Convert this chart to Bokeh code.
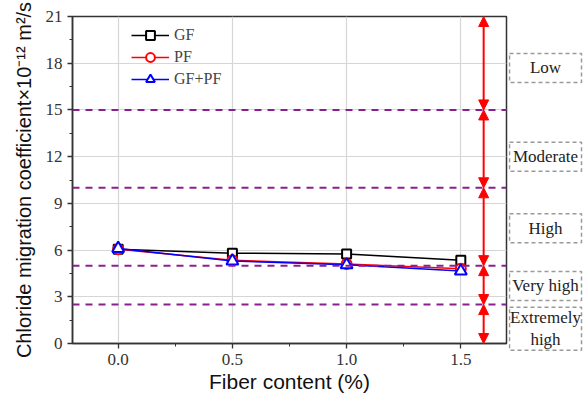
from bokeh.plotting import figure
from bokeh.models import Range1d, FixedTicker, Span, Arrow, NormalHead, Legend, LegendItem
from bokeh.layouts import row, column
from bokeh.core.properties import value
from bokeh.embed import file_html
from bokeh.resources import INLINE

# ---- data ----
fiber = [0.0, 0.5, 1.0, 1.5]
x_tick_labels = {0.0: "0.0", 0.5: "0.5", 1.0: "1.0", 1.5: "1.5"}
gf = [6.05, 5.8, 5.75, 5.35]
pf = [6.05, 5.35, 5.1, 4.8]
gfpf = [6.1, 5.3, 5.05, 4.65]
y_ticks = [0, 3, 6, 9, 12, 15, 18, 21]
boundaries = [0, 2.5, 5, 10, 15, 21]
class_names = ["Extremely\nhigh", "Very high", "High", "Moderate", "Low"]
class_pos = [0.95, 3.7, 7.4, 12.0, 17.7]
arrow_x = 1.6

SERIF = "Liberation Serif"
SANS = "Liberation Sans"

p = figure(width=508, height=397, x_range=Range1d(-0.2, 1.7), y_range=Range1d(0, 21),
           output_backend="svg", toolbar_location=None,
           min_border_left=72, min_border_right=2, min_border_top=16, min_border_bottom=54)

p.xaxis.ticker = FixedTicker(ticks=fiber, minor_ticks=[-0.25, 0.25, 0.75, 1.25, 1.75])
p.xaxis.major_label_overrides = x_tick_labels
p.yaxis.ticker = FixedTicker(ticks=y_ticks, minor_ticks=[v + 1.5 for v in y_ticks[:-1]])
p.xgrid.ticker = FixedTicker(ticks=fiber)
p.ygrid.ticker = FixedTicker(ticks=y_ticks)
p.grid.grid_line_color = "#d6d6d6"
p.grid.grid_line_width = 1.2

for ax in (p.xaxis, p.yaxis):
    ax.axis_line_color = "#333333"
    ax.axis_line_width = 1.5
    ax.major_tick_line_color = "#333333"
    ax.minor_tick_line_color = "#333333"
    ax.major_tick_line_width = 1.3
    ax.major_tick_out = 5
    ax.major_tick_in = 0
    ax.minor_tick_out = 3
    ax.minor_tick_in = 0
    ax.major_label_text_font = SERIF
    ax.major_label_text_font_size = "17px"
    ax.major_label_text_color = "#333333"
    ax.major_label_standoff = 5
    ax.axis_label_text_font = SANS
    ax.axis_label_text_font_style = "normal"
    ax.axis_label_text_color = "#111111"

p.xaxis.axis_label = "Fiber content (%)"
p.xaxis.axis_label_text_font_size = "21px"
p.xaxis.axis_label_standoff = 2
p.yaxis.axis_label = "Chloride migration coefficient×10⁻¹² m²/s"
p.yaxis.axis_label_text_font_size = "20px"
p.yaxis.axis_label_standoff = 8

p.outline_line_color = "#333333"
p.outline_line_width = 1.5

for b in boundaries[1:-1]:
    p.add_layout(Span(location=b, dimension="width", line_color="#8a1f8f",
                      line_width=2, line_dash="7 6"))

for lo, hi in zip(boundaries[:-1], boundaries[1:]):
    p.add_layout(Arrow(x_start=arrow_x, y_start=lo, x_end=arrow_x, y_end=hi,
                       start=NormalHead(size=10, fill_color="red", line_color="red"),
                       end=NormalHead(size=10, fill_color="red", line_color="red"),
                       line_color="red", line_width=2))

series = [("GF", gf, "black", "square", 9),
          ("PF", pf, "red", "circle", 10),
          ("GF+PF", gfpf, "blue", "triangle", 12)]
items = []
for name, ys, col, mk, sz in series:
    l = p.line(fiber, ys, line_color=col, line_width=1.5)
    s = p.scatter(fiber, ys, marker=mk, size=sz, fill_color="white",
                  line_color=col, line_width=2)
    items.append(LegendItem(label=name, renderers=[l, s]))

leg = Legend(items=items, location=(59, 253), border_line_color=None,
             background_fill_alpha=0, label_text_font=SERIF, label_text_font_size="16px",
             glyph_width=38, label_height=22, glyph_height=22, spacing=0, padding=2,
             label_standoff=5, margin=0)
p.add_layout(leg)

# side panel with class boxes; frame spans the whole 397 px height
s = figure(width=78, height=397, x_range=Range1d(0, 78), y_range=Range1d(-3.468, 22.0275),
           output_backend="svg", toolbar_location=None, min_border=0,
           x_axis_location=None, y_axis_location=None)
s.grid.visible = False
s.outline_line_color = None
heights = [43 if "\n" in c else 29 for c in class_names]
s.rect(x=[37] * len(class_names), y=class_pos, width=72, height=heights,
       height_units="screen", fill_color=None, line_color="#9a9a9a",
       line_dash="4 3", line_width=1.5)
s.text(x=[37] * len(class_names), y=class_pos, text=class_names,
       text_align="center", text_baseline="middle",
       text_font=value(SERIF), text_font_size="17px", text_color="#222222",
       text_line_height=1.15)

layout = row(p, column(s, spacing=0), spacing=0)
open("out.html", "w").write(file_html(layout, INLINE))
